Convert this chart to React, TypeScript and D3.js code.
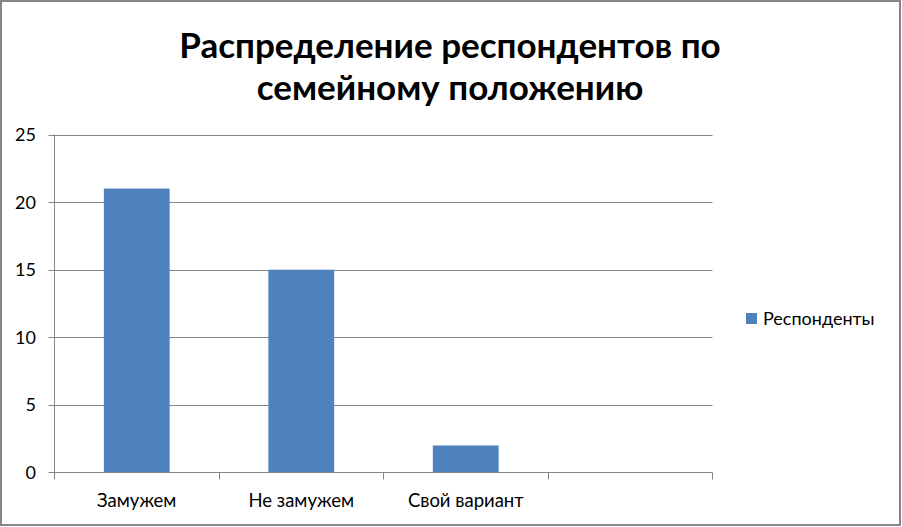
import { useEffect, useRef } from 'react';
import * as d3 from 'd3';

// Chart values
const categories = ['Замужем', 'Не замужем', 'Свой вариант', ''];
const seriesName = 'Респонденты';
const values = [21, 15, 2];
const yTicks = [0, 5, 10, 15, 20, 25];
const titleLines = ['Распределение респондентов по', 'семейному положению'];

const W = 902;
const H = 527;
const FONT = 'Lato, Roboto, "Liberation Sans", sans-serif';
const BAR = '#4F81BD';
const GRID = '#868686';

export default function App() {
  const svgRef = useRef<SVGSVGElement>(null);

  useEffect(() => {
    if (!svgRef.current) return;
    const svg = d3.select(svgRef.current);
    svg.selectAll('*').remove();

    const plot = { left: 54.5, right: 712.5, top: 134.5, bottom: 472.5 };

    const x = d3.scaleBand<string>()
      .domain(categories)
      .range([plot.left, plot.right])
      .padding(0);

    const y = d3.scaleLinear()
      .domain([0, 25])
      .range([plot.bottom, plot.top]);

    // background + outer frame
    svg.append('rect')
      .attr('x', 1).attr('y', 1)
      .attr('width', W - 3).attr('height', H - 3)
      .attr('fill', '#fff')
      .attr('stroke', GRID)
      .attr('stroke-width', 2);

    // title
    svg.append('text')
      .attr('text-anchor', 'middle')
      .attr('font-family', FONT)
      .attr('font-weight', 700)
      .attr('font-size', 35)
      .attr('fill', '#000')
      .selectAll('tspan')
      .data(titleLines)
      .enter()
      .append('tspan')
      .attr('x', 450)
      .attr('y', (d, i) => 58 + i * 42)
      .text((d) => d);

    // horizontal gridlines with tick stubs to the left of the axis
    svg.append('g')
      .selectAll('line')
      .data(yTicks.filter((t) => t > 0))
      .enter()
      .append('line')
      .attr('x1', plot.left - 6)
      .attr('x2', plot.right)
      .attr('y1', (d) => Math.round(y(d)) + 0.5)
      .attr('y2', (d) => Math.round(y(d)) + 0.5)
      .attr('stroke', GRID)
      .attr('stroke-width', 1);

    // bars
    const bw = x.bandwidth() * 0.4;
    svg.append('g')
      .selectAll('rect')
      .data(values)
      .enter()
      .append('rect')
      .attr('x', (d, i) => (x(categories[i]) ?? 0) + (x.bandwidth() - bw) / 2)
      .attr('y', (d) => y(d))
      .attr('width', bw)
      .attr('height', (d) => y(0) - y(d))
      .attr('fill', BAR);

    // y axis line
    svg.append('line')
      .attr('x1', plot.left).attr('x2', plot.left)
      .attr('y1', plot.top).attr('y2', plot.bottom)
      .attr('stroke', GRID);

    // x axis line + zero stub
    svg.append('line')
      .attr('x1', plot.left - 6).attr('x2', plot.right)
      .attr('y1', plot.bottom).attr('y2', plot.bottom)
      .attr('stroke', GRID);

    // category boundary ticks
    const bounds = categories.map((c) => x(c) ?? 0).concat([plot.right]);
    svg.append('g')
      .selectAll('line')
      .data(bounds)
      .enter()
      .append('line')
      .attr('x1', (d) => Math.round(d - 0.5) + 0.5)
      .attr('x2', (d) => Math.round(d - 0.5) + 0.5)
      .attr('y1', plot.bottom)
      .attr('y2', plot.bottom + 7)
      .attr('stroke', GRID);

    // y tick labels
    svg.append('g')
      .selectAll('text')
      .data(yTicks)
      .enter()
      .append('text')
      .attr('x', 36)
      .attr('y', (d) => y(d) + 6.5)
      .attr('text-anchor', 'end')
      .attr('font-family', FONT)
      .attr('font-size', 18)
      .attr('fill', '#000')
      .text((d) => String(d));

    // category labels
    svg.append('g')
      .selectAll('text')
      .data(categories)
      .enter()
      .append('text')
      .attr('x', (d) => (x(d) ?? 0) + x.bandwidth() / 2)
      .attr('y', 507)
      .attr('text-anchor', 'middle')
      .attr('font-family', FONT)
      .attr('font-size', 18.5)
      .attr('fill', '#000')
      .text((d) => d);

    // legend
    const lg = svg.append('g');
    lg.append('rect')
      .attr('x', 746).attr('y', 313)
      .attr('width', 11).attr('height', 11)
      .attr('fill', BAR);
    lg.append('text')
      .attr('x', 763).attr('y', 325)
      .attr('font-family', FONT)
      .attr('font-size', 18)
      .attr('fill', '#000')
      .text(seriesName);
  }, []);

  return (
    <div style={{ position: 'absolute', left: 0, top: 0 }}>
      <svg ref={svgRef} width={W} height={H} style={{ display: 'block' }} />
    </div>
  );
}
